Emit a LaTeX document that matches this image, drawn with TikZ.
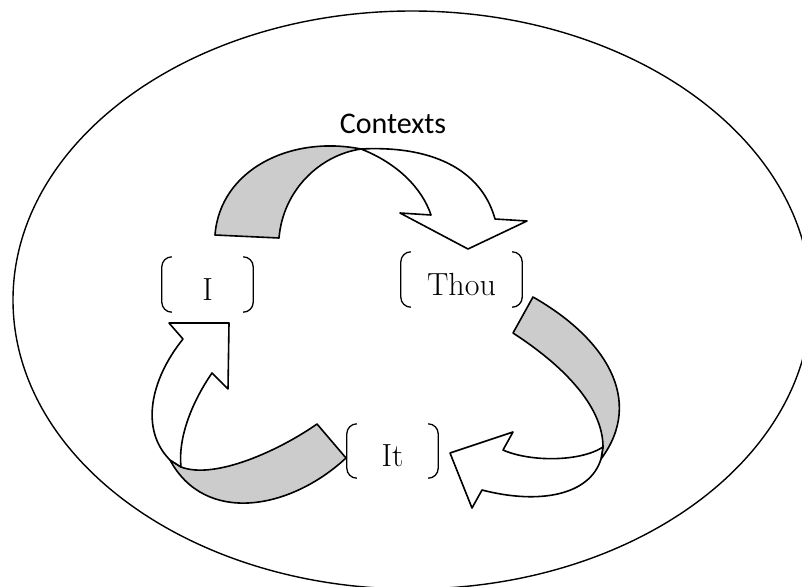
\documentclass[tikz,border=0pt]{standalone}
\usepackage{fontspec}
\newfontfamily\ctxfont{Carlito}
\begin{document}
\begin{tikzpicture}[x=1pt,y=-1pt,
  band/.style={draw=black,line width=1.6pt,line join=round},
  backside/.style={band,fill=black!20},
  frontside/.style={band,fill=white},
  lbl/.style={inner sep=0pt,text height=31pt,text depth=0pt,
    font=\fontsize{32}{38}\selectfont},
  brk/.style={draw=black,line width=1.3pt,rounded corners=10pt}]
\useasboundingbox (0,0) rectangle (802,586);
\clip (0,0) rectangle (802,586);
\draw[line width=1.4pt] (412,300) ellipse [x radius=399,y radius=289];

\node[font=\ctxfont\fontsize{30}{36}\selectfont,anchor=base] (ctx) at (393,133) {Contexts};

\node[lbl,minimum width=91pt,minimum height=55pt] (nI) at (207.5,284.5) {I};
\node[lbl,minimum width=121pt,minimum height=55pt] (nThou) at (461.5,279.5) {Thou};
\node[lbl,minimum width=91pt,minimum height=54pt] (nIt) at (392.5,451) {It};

\foreach \n in {nI,nThou,nIt}{
  \draw[brk] ([xshift=10pt]\n.north west) -- (\n.north west) -- (\n.south west) -- ([xshift=10pt]\n.south west);
  \draw[brk] ([xshift=-10pt]\n.north east) -- (\n.north east) -- (\n.south east) -- ([xshift=-10pt]\n.south east);
}

% I -> Thou
\coordinate (aTop) at (361,149);
\filldraw[backside] (215,235) -- (279,238)
  .. controls (283,190) and (320,155) .. (aTop)
  .. controls (290,135) and (220,170) .. (215,235) -- cycle;
\filldraw[frontside] (aTop)
  .. controls (440,145) and (483,175) .. (495,219)
  -- (527,221) -- (468,249) -- (400,213) -- (431,215)
  .. controls (422,188) and (397,163) .. (aTop) -- cycle;

% Thou -> It
\coordinate (bJ1) at (603,447);
\coordinate (bJ2) at (601,459);
\filldraw[backside] (533,297) -- (513,333)
  .. controls (570,370) and (603,410) .. (bJ1)
  -- (bJ2)
  .. controls (645,400) and (605,338) .. (533,297) -- cycle;
\filldraw[frontside] (bJ1)
  .. controls (580,462) and (530,462) .. (503,450)
  -- (513,432) -- (450,453) -- (472,508) -- (482,490)
  .. controls (540,505) and (590,495) .. (bJ2) -- cycle;

% It -> I
\coordinate (cJ1) at (181,467);
\coordinate (cJ2) at (170,460);
\filldraw[backside] (317,424) -- (346,458)
  .. controls (290,510) and (205,525) .. (cJ2)
  -- (cJ1)
  .. controls (215,480) and (280,450) .. (317,424) -- cycle;
\filldraw[frontside] (cJ2)
  .. controls (140,430) and (150,380) .. (183,339)
  -- (169,323) -- (229,323) -- (228,389) -- (212,373)
  .. controls (190,405) and (178,440) .. (cJ1) -- cycle;
\end{tikzpicture}
\end{document}
